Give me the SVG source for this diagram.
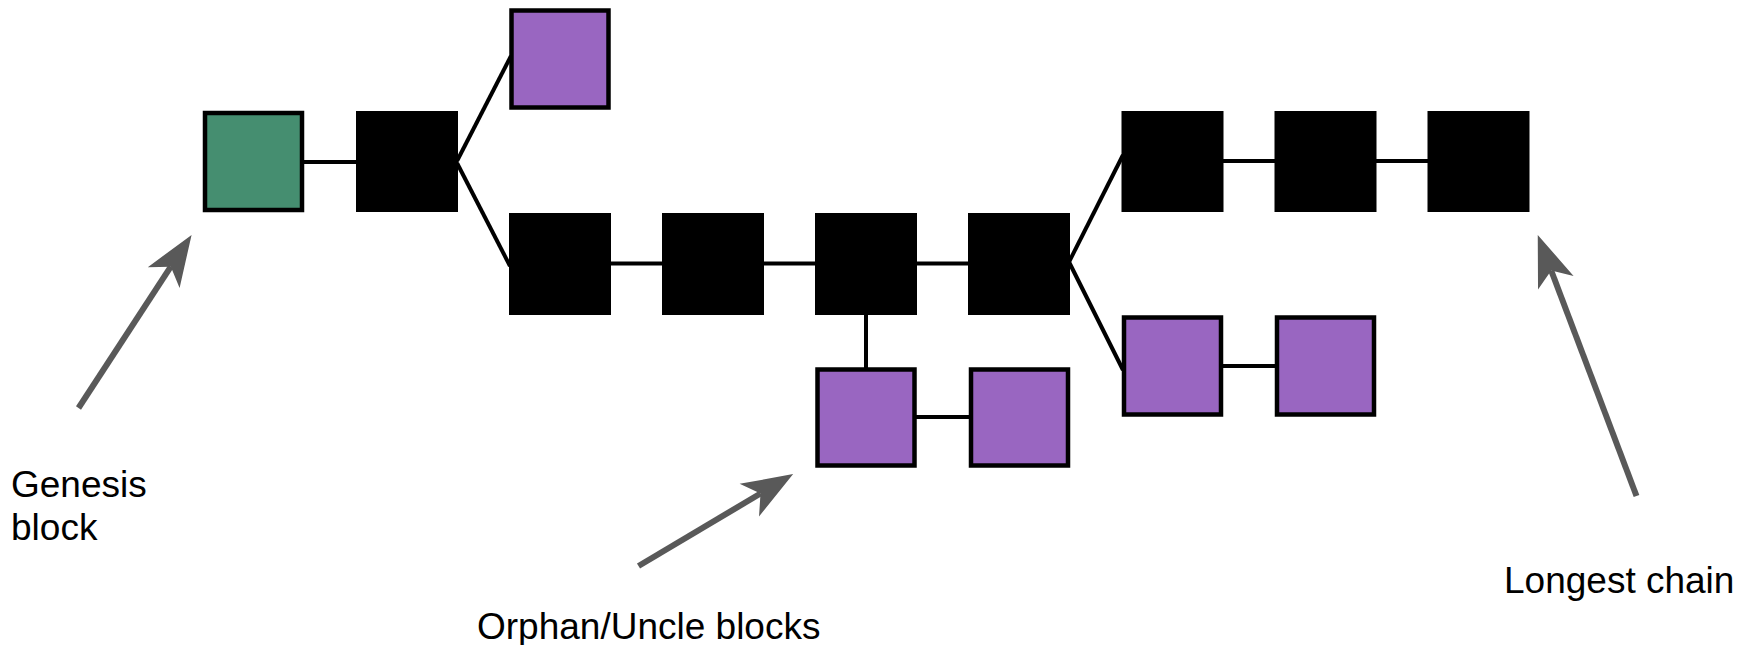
<svg xmlns="http://www.w3.org/2000/svg" width="1739" height="645" viewBox="0 0 1739 645">
  <style>
    .block { fill: #000000; }
    .genesis { fill: #458e70; stroke: #000000; stroke-width: 4.5; }
    .uncle { fill: #9966c1; stroke: #000000; stroke-width: 4.5; }
    .link { stroke: #000000; stroke-width: 4; fill: none; }
    .pointer { stroke: #595959; stroke-width: 6; fill: none; marker-end: url(#head); }
    .label { font-family: "Liberation Sans", Arial, sans-serif; font-size: 37px; fill: #000000; }
  </style>
  <defs>
    <marker id="head" markerUnits="userSpaceOnUse" markerWidth="60" markerHeight="40" refX="0" refY="0" orient="auto" overflow="visible">
      <path d="M38,0 L-13,-19 L0,0 L-13,19 Z" fill="#595959"/>
    </marker>
  </defs>

  <rect width="1739" height="645" fill="#ffffff"/>

  <!-- chain links -->
  <g id="connectors">
    <line class="link" x1="302" y1="162" x2="358" y2="162"/>
    <line class="link" x1="457" y1="161" x2="511" y2="56"/>
    <line class="link" x1="457" y1="163" x2="510" y2="266"/>
    <line class="link" x1="610" y1="263.5" x2="663" y2="263.5"/>
    <line class="link" x1="763" y1="263.5" x2="816" y2="263.5"/>
    <line class="link" x1="916" y1="263.5" x2="969" y2="263.5"/>
    <line class="link" x1="866" y1="314" x2="866" y2="368"/>
    <line class="link" x1="916" y1="417" x2="971" y2="417"/>
    <line class="link" x1="1069" y1="262" x2="1123" y2="155"/>
    <line class="link" x1="1069" y1="262" x2="1123" y2="370"/>
    <line class="link" x1="1222" y1="161" x2="1276" y2="161"/>
    <line class="link" x1="1375" y1="161" x2="1429" y2="161"/>
    <line class="link" x1="1222" y1="366" x2="1278" y2="366"/>
  </g>

  <!-- blocks -->
  <g id="genesis"><rect class="genesis" x="205" y="113" width="97" height="97"/></g>
  <g id="b1"><rect class="block" x="356" y="111" width="102" height="101"/></g>
  <g id="u1"><rect class="uncle" x="511.5" y="10.5" width="97" height="97"/></g>
  <g id="b2"><rect class="block" x="509" y="213" width="102" height="102"/></g>
  <g id="b3"><rect class="block" x="662" y="213" width="102" height="102"/></g>
  <g id="b4"><rect class="block" x="815" y="213" width="102" height="102"/></g>
  <g id="b5"><rect class="block" x="968" y="213" width="102" height="102"/></g>
  <g id="u2"><rect class="uncle" x="817.5" y="369.5" width="97" height="96"/></g>
  <g id="u3"><rect class="uncle" x="971" y="369.5" width="97" height="96"/></g>
  <g id="b6"><rect class="block" x="1121.5" y="111" width="102" height="101"/></g>
  <g id="b7"><rect class="block" x="1274.5" y="111" width="102" height="101"/></g>
  <g id="b8"><rect class="block" x="1427.5" y="111" width="102" height="101"/></g>
  <g id="u4"><rect class="uncle" x="1124" y="317.5" width="97" height="97"/></g>
  <g id="u5"><rect class="uncle" x="1277" y="317.5" width="97" height="97"/></g>

  <!-- annotations -->
  <g id="genesis-note">
    <line class="pointer" x1="78.5" y1="408" x2="170.8" y2="266.7"/>
    <text class="label" x="11" y="497">Genesis</text>
    <text class="label" x="11" y="540">block</text>
  </g>
  <g id="uncle-note">
    <line class="pointer" x1="638.5" y1="566" x2="760.5" y2="493.5"/>
    <text class="label" x="477" y="639">Orphan/Uncle blocks</text>
  </g>
  <g id="chain-note">
    <line class="pointer" x1="1636.5" y1="496" x2="1551.2" y2="270.5"/>
    <text class="label" x="1504" y="593">Longest chain</text>
  </g>
</svg>
